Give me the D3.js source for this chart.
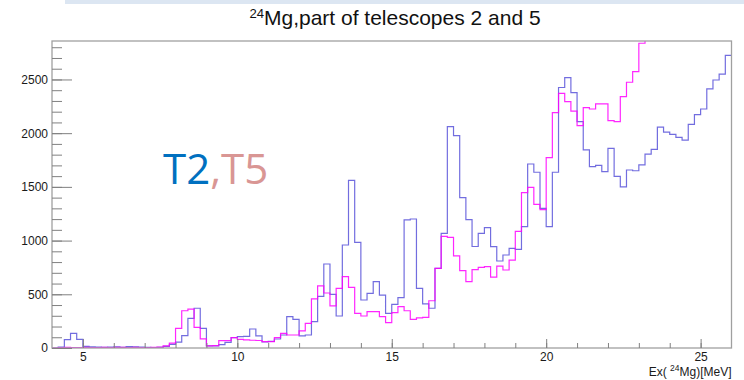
<!DOCTYPE html>
<html><head><meta charset="utf-8">
<script src="https://cdn.jsdelivr.net/npm/d3@7"></script>
<style>
html,body{margin:0;padding:0;background:#fff;}
svg{display:block;font-family:"Liberation Sans",Arial,Helvetica,sans-serif;}
</style></head><body>
<svg id="chart" width="744" height="380"></svg>
<script>
// ---- data ----
const xRange = [4, 26];          // Ex(24Mg) [MeV]
const binWidth = 0.2;
const yMax = 2858;
const t2Counts = [0,8,78,137,80,15,10,8,6,8,10,6,12,10,8,6,4,6,15,34,55,115,275,370,183,20,19,31,53,96,105,108,177,112,56,62,84,121,292,267,112,121,245,480,782,500,298,959,1561,984,447,509,618,493,323,407,469,1192,1201,556,410,370,742,1068,2060,1977,1400,1195,945,1068,1120,943,810,866,928,919,1130,1713,1636,1300,1130,1636,2425,2517,2377,2107,1845,1688,1700,1642,1859,1598,1500,1657,1650,1704,1805,1850,2057,2010,1988,1960,1936,2082,2172,2225,2412,2495,2550,2725];
const t5Counts = [0,3,5,4,3,5,4,3,5,4,6,5,4,5,3,4,5,8,20,45,183,347,362,192,85,19,22,68,68,96,81,75,72,70,59,59,96,137,121,121,160,230,458,578,512,392,556,664,565,323,298,338,338,292,236,329,385,347,267,280,285,440,742,1040,1030,858,720,618,730,750,757,660,763,726,819,1086,1446,1496,1338,1288,1773,2191,2371,2293,2206,2070,2237,2225,2272,2272,2116,2107,2340,2474,2573,2837,2960,3010,3080,3150,3120,3200,3260,3310,3380,3440,3500,3570,3640,3700];
const yMajorTicks = [0,500,1000,1500,2000,2500];
const yMinorTicks = d3.range(0, 2900, 100);
const xMajorTicks = [5,10,15,20,25];
const xMinorTicks = d3.range(4, 27, 1);
const titleText = {sup: "24", main: "Mg,part of telescopes 2 and 5"};
const xTitle = {pre: "Ex( ", sup: "24", post: "Mg)[MeV]"};
const labelA = "T2", labelB = ",T5";

// ---- layout ----
const W = 744, H = 380;
const m = {left: 52, top: 41, right: 12.5, bottom: 32};
const svg = d3.select("#chart");

svg.append("rect").attr("x", 65).attr("y", 0).attr("width", W - 65).attr("height", 4).attr("fill", "#dce6f2");

const x = d3.scaleLinear().domain(xRange).range([m.left, W - m.right]);
const y = d3.scaleLinear().domain([0, yMax]).range([H - m.bottom, m.top]);

svg.append("clipPath").attr("id", "frameClip").append("rect")
  .attr("x", m.left).attr("y", m.top).attr("width", W - m.right - m.left).attr("height", H - m.bottom - m.top);

// histograms
function stepPoints(counts) {
  const pts = counts.map((v, i) => [xRange[0] + i * binWidth, v]);
  pts.push([xRange[0] + counts.length * binWidth, counts[counts.length - 1]]);
  return pts;
}
const line = d3.line().x(d => x(d[0])).y(d => y(d[1])).curve(d3.curveStepAfter);
const hg = svg.append("g").attr("clip-path", "url(#frameClip)");
hg.append("path").attr("d", line(stepPoints(t2Counts))).attr("fill", "none").attr("stroke", "#5954d9").attr("stroke-width", 1.2).attr("stroke-opacity", 0.85);
hg.append("path").attr("d", line(stepPoints(t5Counts))).attr("fill", "none").attr("stroke", "#ff00ff").attr("stroke-width", 1.2).attr("stroke-opacity", 0.85);

// frame
svg.append("rect").attr("x", m.left).attr("y", m.top).attr("width", W - m.right - m.left).attr("height", H - m.bottom - m.top)
  .attr("fill", "none").attr("stroke", "#a0a0a0").attr("stroke-width", 1.3);

// y axis
const gy = svg.append("g").attr("transform", `translate(${m.left},0)`);
gy.call(d3.axisLeft(y).tickValues(yMinorTicks).tickSizeInner(-10).tickSizeOuter(0).tickFormat(""));
gy.call(g => g.select(".domain").remove());
const gy2 = svg.append("g").attr("transform", `translate(${m.left},0)`);
gy2.call(d3.axisLeft(y).tickValues(yMajorTicks).tickSizeInner(-20).tickSizeOuter(0).tickPadding(4).tickFormat(d3.format("d")));
gy2.select(".domain").remove();
svg.selectAll("g.tick line").attr("stroke", "#808080");
gy2.selectAll("text").attr("font-size", 12).attr("fill", "#1a1a1a").attr("font-family", "Liberation Sans, Arial, sans-serif");

// x axis
const gx = svg.append("g").attr("transform", `translate(0,${H - m.bottom})`);
gx.call(d3.axisBottom(x).tickValues(xMinorTicks.filter(v => v > xRange[0] && v < xRange[1])).tickSizeInner(-5).tickSizeOuter(0).tickFormat(""));
gx.select(".domain").remove();
const gx2 = svg.append("g").attr("transform", `translate(0,${H - m.bottom})`);
gx2.call(d3.axisBottom(x).tickValues(xMajorTicks).tickSizeInner(-9).tickSizeOuter(0).tickPadding(4).tickFormat(d3.format("d")));
gx2.select(".domain").remove();
svg.selectAll("g.tick line").attr("stroke", "#808080");
gx2.selectAll("text").attr("font-size", 12).attr("fill", "#1a1a1a").attr("font-family", "Liberation Sans, Arial, sans-serif");

// x title
const xt = svg.append("text").attr("x", W - m.right).attr("y", 376).attr("text-anchor", "end").attr("font-size", 12).attr("fill", "#1a1a1a");
xt.append("tspan").text(xTitle.pre);
xt.append("tspan").attr("font-size", 8.5).attr("dy", -5).text(xTitle.sup);
xt.append("tspan").attr("dy", 5).text(xTitle.post);

// title
const tt = svg.append("text").attr("transform", "translate(395,25) scale(1.05,1)").attr("text-anchor", "middle").attr("font-size", 20).attr("fill", "#111");
tt.append("tspan").attr("font-size", 12.5).attr("dy", -7.5).text(titleText.sup);
tt.append("tspan").attr("dy", 7.5).text(titleText.main);

// T2,T5 label
const lt = svg.append("text").attr("x", 163).attr("y", 184).attr("font-size", 42).attr("font-family", "Open Sans, Noto Sans, sans-serif");
lt.append("tspan").attr("fill", "#0070c0").text(labelA);
lt.append("tspan").attr("fill", "#d99694").text(labelB);
</script>
</body></html>
